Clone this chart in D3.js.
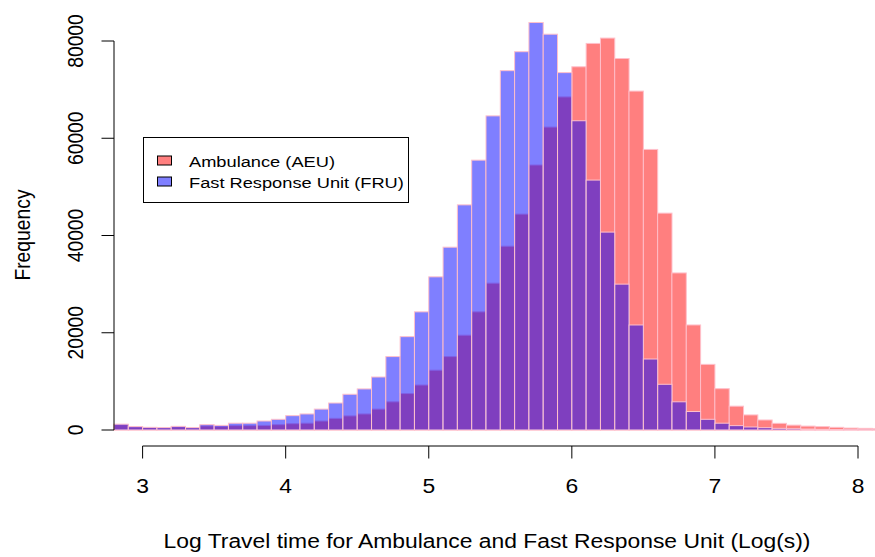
<!DOCTYPE html>
<html>
<head>
<meta charset="utf-8">
<title>Log travel time histogram</title>
<script src="https://cdn.jsdelivr.net/npm/d3@7"></script>
<style>
  body { margin: 0; background: #fff; }
  svg { display: block; font-family: "Liberation Sans", Arial, sans-serif; }
  .tick-label { font-size: 19.3px; }
  .axis-title { font-size: 19.3px; }
  .legend text { font-size: 15.4px; }
</style>
</head>
<body>
<svg width="875" height="557"></svg>
<script>
// left edges of the 0.1-wide bins
const binEdges = [2.8, 2.9, 3.0, 3.1, 3.2, 3.3, 3.4, 3.5, 3.6, 3.7,
                  3.8, 3.9, 4.0, 4.1, 4.2, 4.3, 4.4, 4.5, 4.6, 4.7,
                  4.8, 4.9, 5.0, 5.1, 5.2, 5.3, 5.4, 5.5, 5.6, 5.7,
                  5.8, 5.9, 6.0, 6.1, 6.2, 6.3, 6.4, 6.5, 6.6, 6.7,
                  6.8, 6.9, 7.0, 7.1, 7.2, 7.3, 7.4, 7.5, 7.6, 7.7,
                  7.8, 7.9, 8.0, 8.1];
const binWidth = 0.1;

// Ambulance (AEU) counts per bin
const aeu = [1100, 650, 500, 450, 650, 450, 850, 750, 900, 900,
             950, 1100, 1300, 1400, 1850, 2400, 2900, 3300, 4300, 5800,
             7500, 9250, 12300, 15100, 19500, 24300, 30200, 37800, 44400, 54500,
             62300, 68500, 74700, 79500, 80600, 76400, 69700, 57700, 44600, 32300,
             21600, 13500, 8500, 4900, 3100, 2060, 1370, 1000, 800, 690,
             550, 400, 340, 250];

// Fast Response Unit (FRU) counts per bin
const fru = [1200, 700, 550, 500, 750, 500, 1100, 950, 1400, 1400,
             1850, 2200, 2950, 3300, 4300, 5550, 7350, 8450, 10900, 15100,
             19200, 24300, 31500, 37600, 46300, 55500, 64600, 73900, 77800, 83800,
             81400, 73500, 63600, 51400, 40700, 30000, 21600, 14600, 9400, 5800,
             3800, 2200, 1400, 900, 620, 480, 340, 270, 200, 150,
             100, 80, 60, 40];

const xTicks = [3, 4, 5, 6, 7, 8];
const yTicks = [0, 20000, 40000, 60000, 80000];
const legendLabels = ["Ambulance (AEU)", "Fast Response Unit (FRU)"];

// the original plot is stretched sideways, text included
const sx = 1.185;

const svg = d3.select("svg");

const x = d3.scaleLinear().domain([3, 8]).range([142.6, 858]);
const y = d3.scaleLinear().domain([0, 80000]).range([430, 41]);

function drawHist(values, fill) {
    svg.append("g")
        .selectAll("rect")
        .data(values)
        .enter().append("rect")
        .attr("x", (d, i) => x(binEdges[i]))
        .attr("width", (d, i) => x(binEdges[i] + binWidth) - x(binEdges[i]))
        .attr("y", d => y(d))
        .attr("height", d => y(0) - y(d))
        .attr("fill", fill)
        .attr("stroke", "pink")
        .attr("stroke-width", 1);
}

drawHist(aeu, "rgba(255,0,0,0.5)");
drawHist(fru, "rgba(0,0,255,0.5)");

// x axis (R style: line spans first to last tick)
const xAxis = svg.append("g").attr("transform", "translate(0,446)");
xAxis.append("line")
    .attr("x1", x(xTicks[0])).attr("x2", x(xTicks[xTicks.length - 1]))
    .attr("stroke", "black");
xAxis.selectAll(".t").data(xTicks).enter().append("line")
    .attr("x1", d => x(d)).attr("x2", d => x(d))
    .attr("y1", 0).attr("y2", 12.5)
    .attr("stroke", "black");
xAxis.selectAll("text").data(xTicks).enter().append("text")
    .attr("class", "tick-label")
    .attr("transform", d => `translate(${x(d)},47) scale(${sx},1)`)
    .attr("text-anchor", "middle")
    .text(d => d);

// y axis
const yAxis = svg.append("g").attr("transform", "translate(114,0)");
yAxis.append("line")
    .attr("y1", y(yTicks[0])).attr("y2", y(yTicks[yTicks.length - 1]))
    .attr("stroke", "black");
yAxis.selectAll(".t").data(yTicks).enter().append("line")
    .attr("y1", d => y(d)).attr("y2", d => y(d))
    .attr("x1", 0).attr("x2", -12.5)
    .attr("stroke", "black");
yAxis.selectAll("text").data(yTicks).enter().append("text")
    .attr("class", "tick-label")
    .attr("transform", d => `translate(-31,${y(d)}) scale(${sx},1) rotate(-90)`)
    .attr("text-anchor", "middle")
    .text(d => d);

// axis titles
svg.append("text")
    .attr("class", "axis-title")
    .attr("transform", `translate(487,548) scale(${sx},1)`)
    .attr("text-anchor", "middle")
    .text("Log Travel time for Ambulance and Fast Response Unit (Log(s))");

svg.append("text")
    .attr("class", "axis-title")
    .attr("transform", `translate(30,235) scale(${sx},1) rotate(-90)`)
    .attr("text-anchor", "middle")
    .text("Frequency");

// legend
const legend = svg.append("g").attr("class", "legend");
legend.append("rect")
    .attr("x", 143.5).attr("y", 137.5)
    .attr("width", 265).attr("height", 65)
    .attr("fill", "white").attr("stroke", "black");
const rows = legend.selectAll(".row")
    .data(legendLabels)
    .enter().append("g")
    .attr("transform", (d, i) => `translate(0,${160.5 + i * 21})`);
rows.append("rect")
    .attr("x", 157.5).attr("y", -4.5)
    .attr("width", 14).attr("height", 9)
    .attr("fill", (d, i) => i === 0 ? "rgba(255,0,0,0.5)" : "rgba(0,0,255,0.5)")
    .attr("stroke", "black");
rows.append("text")
    .attr("transform", `translate(189,6) scale(${sx},1)`)
    .text(d => d);
</script>
</body>
</html>
